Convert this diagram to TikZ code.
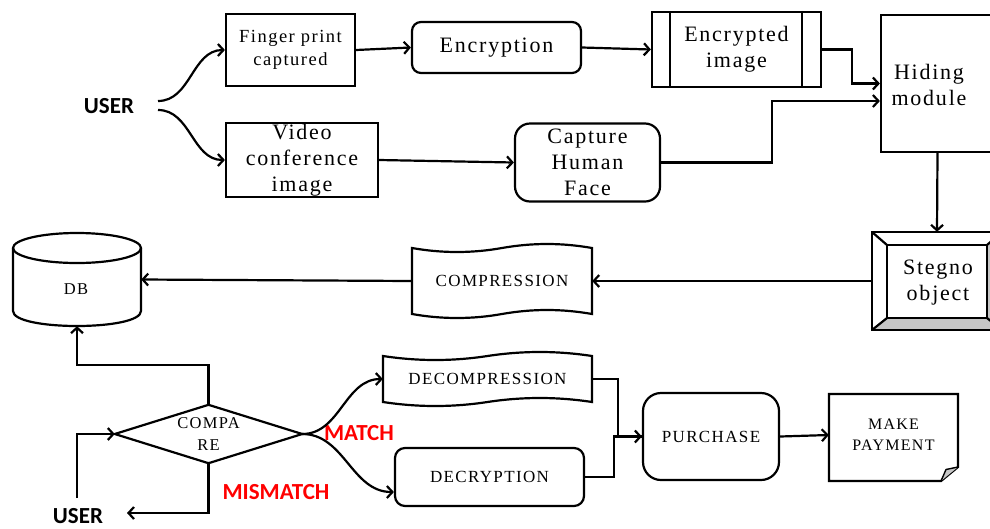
\documentclass[tikz,border=0pt]{standalone}
\usepackage{fontspec}
\setmainfont{Liberation Serif}[LetterSpace=8]
\newfontfamily\calib{Carlito}
\usetikzlibrary{arrows.meta,calc}
\newcommand\fz[2]{\fontsize{#1}{#2}\selectfont}
\newcommand\tapedraw[5]{%
\pgfmathsetmacro\tpL{#1}\pgfmathsetmacro\tpT{#2}\pgfmathsetmacro\tpR{#3}\pgfmathsetmacro\tpB{#4}\pgfmathsetmacro\tpA{4*#5/3}%
\pgfmathsetmacro\tpC{(\tpL+\tpR)/2}\pgfmathsetmacro\tpW{(\tpR-\tpL)/6}%
\draw[shapeline] (\tpL,\tpT) .. controls ({\tpL+\tpW},{\tpT+\tpA}) and ({\tpL+2*\tpW},{\tpT+\tpA}) .. (\tpC,\tpT)
 .. controls ({\tpC+\tpW},{\tpT-\tpA}) and ({\tpC+2*\tpW},{\tpT-\tpA}) .. (\tpR,\tpT) -- (\tpR,\tpB)
 .. controls ({\tpR-\tpW},{\tpB-\tpA}) and ({\tpR-2*\tpW},{\tpB-\tpA}) .. (\tpC,\tpB)
 .. controls ({\tpC-\tpW},{\tpB+\tpA}) and ({\tpC-2*\tpW},{\tpB+\tpA}) .. (\tpL,\tpB) -- cycle;}
\tikzset{
  shapeline/.style={line width=2.2pt, line join=miter},
  box/.style={draw, line width=2.2pt, inner sep=1pt, align=center, font=\fz{22}{26}},
  rbox/.style={box, rounded corners=#1},
  plain/.style={inner sep=1pt, align=center},
  arr/.style={line width=2.2pt, -{Straight Barb[length=5.5pt,width=12pt]}},
  lab/.style={inner sep=0pt, font=\calib\bfseries\fz{23}{25}},
}
\begin{document}
\begin{tikzpicture}[x=1pt,y=-1pt]
\useasboundingbox (0,0) rectangle (990,528);

% top row
\node[lab] (user1) at (109,106) {USER};
\coordinate (u1a) at (158,101);
\coordinate (u1b) at (158,110);
\node[box, minimum width=129pt, minimum height=72pt, font=\fz{18.5}{23}] (finger) at (290.5,50) {Finger print\\captured};
\node[box, minimum width=152pt, minimum height=74pt] (video) at (302,160) {Video\\conference\\image};
\node[rbox=9pt, minimum width=169pt, minimum height=51pt] (encr) at (496.5,47.5) {Encryption};
\node[box, minimum width=169pt, minimum height=75pt] (encimg) at (736.5,49.5) {Encrypted\\image};
\draw[shapeline] ($(encimg.north west)+(19,0)$) -- ($(encimg.south west)+(19,0)$);
\draw[shapeline] ($(encimg.north east)+(-20,0)$) -- ($(encimg.south east)+(-20,0)$);
\node[box, minimum width=113pt, minimum height=137pt] (hiding) at (937.5,83.5) {};
\node[plain, font=\fz{22}{26}] (hidingt) at (929,85) {Hiding\\module};
\node[rbox=15pt, minimum width=145pt, minimum height=78pt] (capture) at (587.5,162.5) {Capture\\Human\\Face};

% stegno object (bevel)
\node[plain, minimum width=130pt, minimum height=98pt] (stegno) at (937,281) {};
\fill[gray!45] (872,330) -- (887,318) -- (987,318) -- (1002,330) -- cycle;
\fill[gray!45] (987,245) -- (1002,232) -- (1002,330) -- (987,318) -- cycle;
\draw[shapeline] (stegno.north west) rectangle (stegno.south east);
\draw[shapeline] (887,245) rectangle (987,318);
\draw[shapeline] (872,232) -- (887,245) (872,330) -- (887,318) (1002,232) -- (987,245) (1002,330) -- (987,318);
\node[plain, font=\fz{22}{26}] (stegnot) at (938,283) {Stegno\\object};

% compression
\node[plain, minimum width=180pt, minimum height=66pt, font=\fz{17}{20}] (cmpr) at (502,281) {COMPRESSION};
\tapedraw{412}{248}{592}{314}{4}

% DB
\node[plain, minimum width=128pt, minimum height=93pt] (db) at (77,279.5) {};
\draw[shapeline] (13,248) -- (13,311) .. controls (13,331) and (141,331) .. (141,311) -- (141,248);
\draw[shapeline] (77,248) ellipse [x radius=64, y radius=15];
\node[plain, font=\fz{16.5}{18}] (dbt) at (76,289) {DB};

% compare
\node[plain, minimum width=187pt, minimum height=58pt, font=\fz{16.5}{22}] (cmp) at (208.5,434) {COMPA\\RE};
\draw[shapeline] (cmp.west) -- (cmp.north) -- (cmp.east) -- (cmp.south) -- cycle;
\node[lab] (user2) at (78,516) {USER};
\coordinate (u2) at (77,498);
\coordinate (u2end) at (127,513);
\node[lab, text=red] (match) at (359,433) {MATCH};
\node[lab, text=red] (mismatch) at (276,492) {MISMATCH};

% decompression / decryption
\node[plain, minimum width=209pt, minimum height=46pt, font=\fz{17}{20}] (decomp) at (487.5,379) {DECOMPRESSION};
\tapedraw{383}{356}{592}{402}{4}
\node[rbox=10pt, minimum width=189pt, minimum height=58pt, font=\fz{17}{20}] (decr) at (489.5,477) {DECRYPTION};
\node[rbox=18pt, minimum width=136pt, minimum height=87pt, font=\fz{17}{20}] (purch) at (711,436.5) {PURCHASE};
\node[plain, minimum width=129pt, minimum height=87pt, font=\fz{16}{21}] (pay) at (893.5,435) {MAKE\\PAYMENT};
\draw[shapeline] (829,394) -- (958,394) -- (958,467) -- (941,481) -- (829,481) -- cycle;
\filldraw[fill=gray!45, line width=1.4pt, line join=round] (958,467) -- (946,469.5) -- (941,481);

% connectors
\draw[arr] (u1a) to[out=0,in=180] (finger.west);
\draw[arr] (u1b) to[out=0,in=180] (video.west);
\draw[arr] (finger.east) -- (encr.west);
\draw[arr] (encr.east) -- (encimg.west);
\draw[arr] (encimg.east) -- ++(30,0) |- (hiding.west);
\draw[arr] (video.east) -- (capture.west);
\draw[arr] (capture.east) -- ++(111,0) |- ($(hiding.west)+(0,17.5)$);
\draw[arr] (hiding.south) -- (stegno.north);
\draw[arr] (stegno.west) -- (cmpr.east);
\draw[arr] (cmpr.west) -- (db.east);
\draw[arr] (cmp.north) -- ++(0,-40) -| (db.south);
\draw[arr] (u2) |- (cmp.west);
\draw[arr] (cmp.south) |- (u2end);
\draw[arr] (cmp.east) to[out=0,in=180] (decomp.west);
\draw[arr] (cmp.east) to[out=0,in=180] ($(decr.west)+(0,15)$);
\draw[arr] (decomp.east) -- ++(26,0) |- (purch.west);
\draw[shapeline] (decr.east) -- ++(29,0) |- (purch.west);
\draw[arr] (purch.east) -- (pay.west);
\end{tikzpicture}
\end{document}
